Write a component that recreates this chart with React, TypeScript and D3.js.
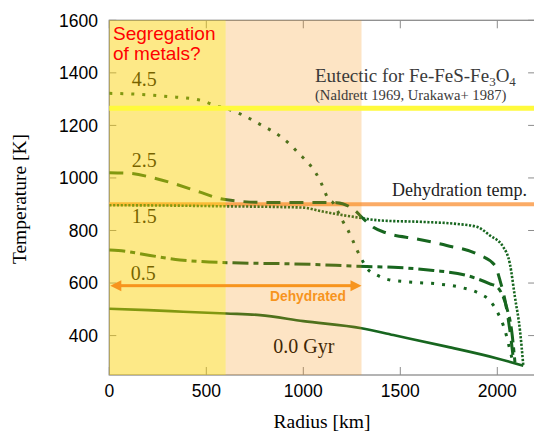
import React from 'react';
import * as d3 from 'd3';

// radius [km] / temperature [K]
const ageLabels = ['0.0 Gyr', '0.5', '1.5', '2.5', '4.5'];

const radius00 = [0, 200, 381, 602, 777, 1000, 1300, 1464, 1739, 2000, 2134];
const temp00 = [502, 497, 491, 484, 478, 455, 428, 402, 358, 313, 285];

const radius05 = [0, 46, 210, 364, 468, 639, 777, 948, 1327, 1464, 1670, 1842, 1962, 2000, 2048, 2074, 2091];
const temp05 = [726, 724, 705, 688, 682, 677, 675, 673, 663, 660, 648, 629, 597, 584, 508, 419, 298];

const radius15 = [0, 300, 600, 900, 1000, 1100, 1250, 1400, 1600, 1790, 1894, 1962, 2031, 2065, 2091, 2117, 2134];
const temp15 = [896, 895, 892, 889, 887, 872, 853, 838, 833, 825, 814, 781, 737, 673, 546, 419, 286];

const radius25 = [0, 100, 244, 468, 571, 674, 777, 1000, 1172, 1266, 1309, 1361, 1430, 1584, 1739, 1894, 1988, 2014, 2040, 2065, 2085];
const temp25 = [1020, 1018, 997, 946, 921, 911, 907, 907, 906, 876, 845, 812, 790, 768, 743, 711, 667, 610, 533, 419, 298];

const radius45 = [0, 160, 300, 468, 553, 600, 700, 777, 884, 937, 981, 1028, 1066, 1093, 1127, 1155, 1180, 1206, 1229, 1255, 1275, 1297, 1327, 1383, 1438, 1567, 1688, 1808, 1911, 1962, 2005, 2040, 2062, 2083];
const temp45 = [1322, 1318, 1310, 1296, 1274, 1265, 1235, 1204, 1157, 1124, 1090, 1055, 1017, 979, 923, 904, 870, 832, 803, 762, 728, 696, 657, 629, 613, 603, 597, 584, 559, 533, 483, 419, 355, 292];

const xTicks = [0, 500, 1000, 1500, 2000];
const yTicks = [400, 600, 800, 1000, 1200, 1400, 1600];

const eutecticTemp = 1265;
const dehydrationTemp = 900;
const segregationZone = [0, 600];
const dehydratedZone = [600, 1300];
const arrowTemp = 590;

const W = 534;
const H = 436;
const left = 109.3;
const right = 536.1;
const top = 20.3;
const bottom = 375;

const green = '#17661f';

const App = () => {
  const x = d3.scaleLinear().domain([0, 2200]).range([left, right]);
  const y = d3.scaleLinear().domain([250, 1600]).range([bottom, top]);

  const line = d3.line<[number, number]>()
    .x(d => x(d[0]))
    .y(d => y(d[1]))
    .curve(d3.curveMonotoneX);

  const zip = (r: number[], t: number[]) => r.map((v, i) => [v, t[i]] as [number, number]);

  const curves = [
    { pts: zip(radius00, temp00), dash: null, w: 2.6, cap: 'butt' },
    { pts: zip(radius05, temp05), dash: '16,5,5,5', w: 3, cap: 'butt' },
    { pts: zip(radius15, temp15), dash: '2.2,1.6', w: 2.6, cap: 'butt' },
    { pts: zip(radius25, temp25), dash: '14,9', w: 3, cap: 'butt' },
    { pts: zip(radius45, temp45), dash: '3,8', w: 3, cap: 'butt' },
  ];

  const labelPos = [
    { r: 845, t: 335 },
    { r: 110, t: 610 },
    { r: 116, t: 828 },
    { r: 116, t: 1040 },
    { r: 116, t: 1350 },
  ];

  const serif = '"Liberation Serif", "Times New Roman", serif';
  const sans = '"Liberation Sans", Arial, sans-serif';

  const ay = y(arrowTemp);

  return (
    <div style={{ position: 'absolute', left: 0, top: 0 }}>
      <svg width={W} height={H} style={{ display: 'block', background: '#fff' }}>
        <defs>
          <clipPath id="plot">
            <rect x={left} y={top} width={right - left} height={bottom - top} />
          </clipPath>
        </defs>

        {/* frame and inward ticks */}
        <rect x={left} y={top} width={right - left} height={bottom - top}
          fill="none" stroke="#8c8c8c" strokeWidth={1.3} />
        {xTicks.map(v => (
          <g key={'xt' + v} stroke="#8c8c8c" strokeWidth={1}>
            <line x1={x(v)} x2={x(v)} y1={bottom} y2={bottom - 8} />
            <line x1={x(v)} x2={x(v)} y1={top} y2={top + 8} />
          </g>
        ))}
        {yTicks.map(v => (
          <g key={'yt' + v} stroke="#8c8c8c" strokeWidth={1}>
            <line x1={left} x2={left + 7} y1={y(v)} y2={y(v)} />
            <line x1={right} x2={right - 8} y1={y(v)} y2={y(v)} />
          </g>
        ))}

        {/* dehydration temperature */}
        <line x1={left} x2={right} y1={y(dehydrationTemp)} y2={y(dehydrationTemp)}
          stroke="#fbab66" strokeWidth={4} />

        {/* temperature profiles */}
        <g clipPath="url(#plot)">
          {curves.map((c, i) => (
            <path key={i} d={line(c.pts) || ''} fill="none" stroke={green}
              strokeWidth={c.w} strokeDasharray={c.dash || undefined} strokeLinecap={c.cap as any} />
          ))}
        </g>

        {ageLabels.map((lab, i) => (
          <text key={lab} x={x(labelPos[i].r)} y={y(labelPos[i].t)} fontFamily={serif}
            fontSize={20} fill="#000">{lab}</text>
        ))}

        {/* shaded zones */}
        <rect x={x(segregationZone[0])} y={top} width={x(segregationZone[1]) - x(segregationZone[0])}
          height={bottom - top} fill="rgb(251,208,0)" fillOpacity={0.47} />
        <rect x={x(dehydratedZone[0])} y={top} width={x(dehydratedZone[1]) - x(dehydratedZone[0])}
          height={bottom - top} fill="rgb(247,147,19)" fillOpacity={0.25} />

        {/* eutectic */}
        <line x1={left} x2={right} y1={y(eutecticTemp)} y2={y(eutecticTemp)}
          stroke="#fffa3c" strokeWidth={5} />
        <text x={315} y={81.5} fontFamily={serif} fontSize={19} fill="#3a3a3a">
          Eutectic for Fe-FeS-Fe<tspan dy={4} fontSize={13}>3</tspan><tspan dy={-4}>O</tspan><tspan dy={4} fontSize={13}>4</tspan>
        </text>
        <text x={315} y={100} fontFamily={serif} fontSize={14.6} fill="#3a3a3a">
          (Naldrett 1969, Urakawa+ 1987)
        </text>

        <text x={527} y={196} textAnchor="end" fontFamily={serif} fontSize={18} fill="#222">
          Dehydration temp.
        </text>

        {/* dehydrated arrow */}
        <g fill="#f7941d" stroke="none">
          <rect x={x(0) + 9} y={ay - 1.5} width={x(1300) - x(0) - 18} height={3} />
          <path d={`M${x(0) + 1},${ay} L${x(0) + 12},${ay - 5.5} L${x(0) + 12},${ay + 5.5} Z`} />
          <path d={`M${x(1300)},${ay} L${x(1300) - 11},${ay - 5.5} L${x(1300) - 11},${ay + 5.5} Z`} />
        </g>
        <text x={308} y={301} textAnchor="middle" fontFamily={sans} fontWeight="bold"
          fontSize={14} fill="#f7941d" textLength={76} lengthAdjust="spacingAndGlyphs">Dehydrated</text>

        <text fontFamily={sans} fontSize={19} fill="#ff0000">
          <tspan x={113} y={39.5}>Segregation</tspan>
          <tspan x={113} y={60}>of metals?</tspan>
        </text>

        {/* axis labels */}
        {xTicks.map(v => (
          <text key={'xl' + v} x={x(v)} y={397} textAnchor="middle" fontFamily={sans} fontSize={17.5} fill="#000">{v}</text>
        ))}
        {yTicks.map(v => (
          <text key={'yl' + v} x={98} y={y(v) + 6.3} textAnchor="end" fontFamily={sans} fontSize={17.5} fill="#000">{v}</text>
        ))}
        <text x={322} y={428} textAnchor="middle" fontFamily={serif} fontSize={19.5} fill="#000">Radius [km]</text>
        <text transform={`translate(26,199) rotate(-90)`} textAnchor="middle" fontFamily={serif}
          fontSize={19.5} fill="#000">Temperature [K]</text>
      </svg>
    </div>
  );
};

export default App;
